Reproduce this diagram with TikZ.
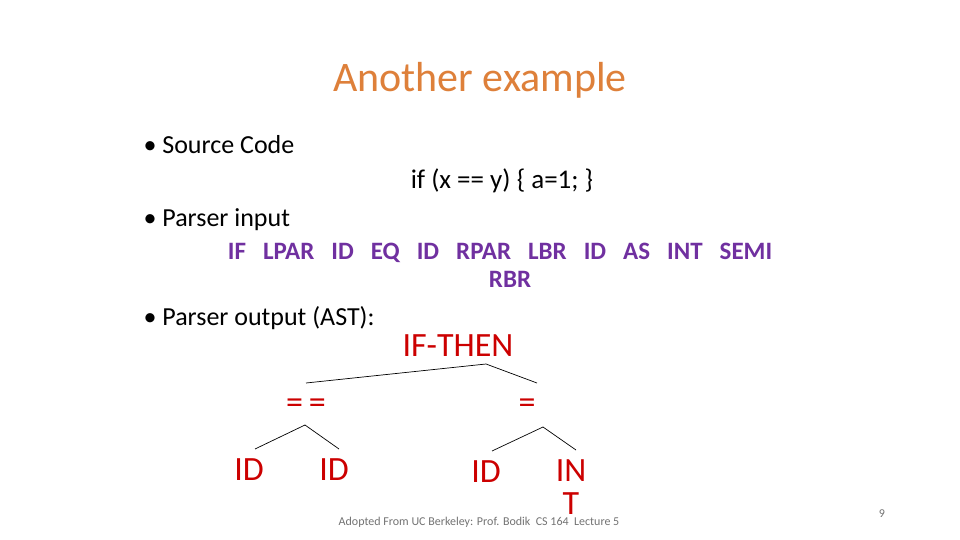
\documentclass[tikz,border=0pt]{standalone}
\usepackage{fontspec}
\setmainfont{Carlito}
\definecolor{ttl}{RGB}{222,128,58}
\definecolor{tok}{RGB}{112,48,160}
\definecolor{ast}{RGB}{204,0,0}
\newcommand{\tg}{\hspace{17pt}}
\begin{document}
\begin{tikzpicture}[x=1pt,y=-1pt,
  bul/.style={anchor=west,font=\fontsize{26}{28}\selectfont},
  tr/.style={text=ast,font=\fontsize{34}{30}\selectfont},
  ln/.style={draw=black,line width=0.7pt}]
\useasboundingbox[fill=white] (0,0) rectangle (960,540);
\node[text=ttl,font=\fontsize{42}{44}\selectfont] (title) at (480,80) {Another example};
\node[bul] (b1) at (140,145) {\textbullet\ Source Code};
\node[font=\fontsize{27}{30}\selectfont] (code) at (502,181) {if (x == y) \{ a=1; \}};
\node[bul] (b2) at (140,220) {\textbullet\ Parser input};
\node[text=tok,font=\fontsize{25}{28}\selectfont\bfseries] (tk1) at (500,253) {IF\tg LPAR\tg ID\tg EQ\tg ID\tg RPAR\tg LBR\tg ID\tg AS\tg INT\tg SEMI};
\node[text=tok,font=\fontsize{25}{28}\selectfont\bfseries] (tk2) at (510,279) {RBR};
\node[bul] (b3) at (140,318) {\textbullet\ Parser output (AST):};
\node[tr] (ift) at (458,346) {IF-THEN};
\node[tr] (eqeq) at (306,406) {=\,=};
\node[tr] (asg) at (527,406) {=};
\node[tr] (id1) at (249,470) {ID};
\node[tr] (id2) at (334,470) {ID};
\node[tr] (id3) at (486,472) {ID};
\node[tr,align=center,font=\fontsize{34}{33}\selectfont] (int) at (571,487) {IN\\T};
\coordinate (a0) at (486,364); \coordinate (a1) at (306,383); \coordinate (a2) at (537,383);
\coordinate (b0) at (305,425); \coordinate (b1e) at (255,449); \coordinate (b2e) at (339,449);
\coordinate (c0) at (543,427); \coordinate (c1) at (492,451); \coordinate (c2) at (576,450);
\draw[ln] (a1) -- (a0) -- (a2);
\draw[ln] (b1e) -- (b0) -- (b2e);
\draw[ln] (c1) -- (c0) -- (c2);
\node[text=black!55,font=\fontsize{12}{14}\selectfont] (foot) at (479,522) {Adopted From UC Berkeley: Prof. Bodik\ \ CS 164\ \ Lecture 5};
\node[text=black!55,font=\fontsize{12}{14}\selectfont] (pg) at (882,514) {9};
\end{tikzpicture}
\end{document}
